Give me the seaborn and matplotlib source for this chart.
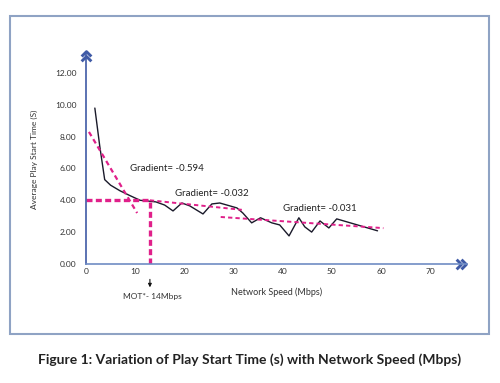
import matplotlib
matplotlib.use("Agg")
import matplotlib.pyplot as plt
import seaborn as sns
import pandas as pd
from matplotlib.patches import Rectangle
from matplotlib.path import Path

# Data
speed = [1.8, 2.8, 3.8, 5.0, 6.9, 8.9, 11.0, 14.2, 16.0, 17.7, 19.5, 21.1, 23.8,
         25.6, 27.2, 30.7, 31.9, 33.7, 35.5, 37.8, 39.4, 41.3, 43.3, 44.5, 45.9,
         47.6, 49.4, 51.0, 59.3]
start_time = [9.8, 7.4, 5.3, 4.95, 4.6, 4.3, 4.0, 3.9, 3.7, 3.33, 3.83, 3.65, 3.14,
              3.77, 3.83, 3.52, 3.2, 2.58, 2.9, 2.58, 2.45, 1.76, 2.9, 2.33, 2.0,
              2.7, 2.26, 2.83, 2.08]

# trend (gradient) lines, start/end points
trend1_x = [0.6, 10.4]
trend1_y = [8.3, 3.2]
trend2_x = [13.0, 31.7]
trend2_y = [4.0, 3.4]
trend3_x = [27.4, 60.5]
trend3_y = [2.95, 2.25]
mot_x = 13.0
mot_y = 4.0

grad_labels = ["Gradient= -0.594", "Gradient= -0.032", "Gradient= -0.031"]
grad_pos = [(8.9, 6.0), (18.1, 4.45), (40.0, 3.5)]

x_ticks = [0, 10, 20, 30, 40, 50, 60, 70]
y_ticks = [0, 2, 4, 6, 8, 10, 12]

df = pd.DataFrame({"speed": speed, "time": start_time})

sns.set_style("white")
plt.rcParams["font.family"] = ["Lato", "DejaVu Sans"]

pink = "#e0208a"
blue = "#3f5aa6"
txt = "#333333"

fig = plt.figure(figsize=(5, 3.83), dpi=100)
ax = fig.add_axes([0.172, 0.311, 0.762, 0.548])

sns.lineplot(data=df, x="speed", y="time", color="#1a1a2a", linewidth=1.0, ax=ax)

dash_thin = (0, (2.2, 1.6))
dash_thick = (0, (1.8, 1.0))
ax.plot(trend1_x, trend1_y, color=pink, lw=1.6, linestyle=dash_thin)
ax.plot(trend2_x, trend2_y, color=pink, lw=1.4, linestyle=dash_thin)
ax.plot(trend3_x, trend3_y, color=pink, lw=1.4, linestyle=dash_thin)
ax.plot([0, mot_x], [mot_y, mot_y], color=pink, lw=2.4, linestyle=dash_thick)
ax.plot([mot_x, mot_x], [0, mot_y], color=pink, lw=2.4, linestyle=dash_thick)

for lab, (gx, gy) in zip(grad_labels, grad_pos):
    ax.text(gx, gy, lab, fontsize=7, color="#222222", va="center", ha="left")

ax.annotate("", xy=(mot_x, -1.65), xytext=(mot_x, -0.8),
            arrowprops=dict(arrowstyle="-|>", color="#111111", lw=0.8,
                            mutation_scale=5),
            annotation_clip=False)
ax.text(mot_x + 0.6, -2.05, "MOT*- 14Mbps", fontsize=6, color=txt,
        ha="center", va="center", clip_on=False)

ax.set_xlim(0, 77.5)
ax.set_ylim(0, 13.2)
ax.set_xticks(x_ticks)
ax.set_yticks(y_ticks)
ax.set_yticklabels([f"{v:.2f}" for v in y_ticks])
ax.tick_params(axis="both", length=0, labelsize=6, colors=txt)
ax.tick_params(axis="x", pad=3)
ax.tick_params(axis="y", pad=7)
ax.set_xlabel("Network Speed (Mbps)", fontsize=6.5, color=txt, labelpad=9)
ax.set_ylabel("Average Play Start Time (S)", fontsize=6, color=txt, labelpad=12)

for s in ["top", "right"]:
    ax.spines[s].set_visible(False)
ax.spines["left"].set_color(blue)
ax.spines["left"].set_linewidth(1.2)
ax.spines["bottom"].set_color("#6f8cc4")
ax.spines["bottom"].set_linewidth(1.2)

# double chevrons at the ends of the axes
right_chev = Path([(-1, 1), (0, 0), (-1, -1), (0, 1), (1, 0), (0, -1)],
                  [Path.MOVETO, Path.LINETO, Path.LINETO,
                   Path.MOVETO, Path.LINETO, Path.LINETO])
up_chev = Path([(-1, -1), (0, 0), (1, -1), (-1, 0), (0, 1), (1, 0)],
               [Path.MOVETO, Path.LINETO, Path.LINETO,
                Path.MOVETO, Path.LINETO, Path.LINETO])
ax.plot([0.985], [0], marker=right_chev, ms=7, mew=2.1, mfc="none", mec=blue,
        transform=ax.transAxes, clip_on=False)
ax.plot([0], [0.99], marker=up_chev, ms=7, mew=2.1, mfc="none", mec=blue,
        transform=ax.transAxes, clip_on=False)

# outer frame
fig.patches.append(Rectangle((0.02, 0.128), 0.958, 0.830, transform=fig.transFigure,
                             fill=False, edgecolor="#8fa3c4", linewidth=1.5))

fig.text(0.5, 0.06, "Figure 1: Variation of Play Start Time (s) with Network Speed (Mbps)",
         ha="center", va="center", fontsize=10, fontweight="bold", color="#222222")

fig.savefig("out.png", dpi=100)
